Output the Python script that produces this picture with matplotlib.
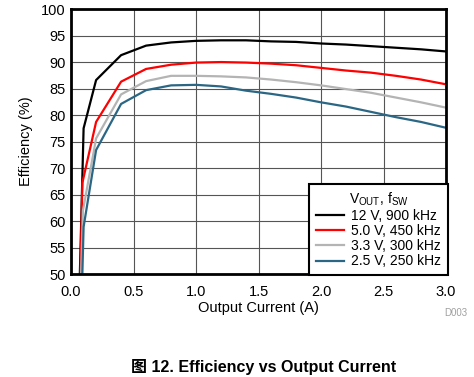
import matplotlib.pyplot as plt

plt.rcParams['font.family'] = ['Liberation Sans', 'Noto Sans CJK SC', 'DejaVu Sans']

# output current (A)
x_12v = [0.07, 0.1, 0.2, 0.4, 0.6, 0.8, 1.0, 1.2, 1.4, 1.6, 1.8, 2.0, 2.2, 2.4, 2.6, 2.8, 3.0]
eff_12v = [50, 77.5, 86.6, 91.3, 93.1, 93.7, 94.0, 94.1, 94.1, 93.9, 93.8, 93.5, 93.3, 93.0, 92.7, 92.4, 92.0]

x_5v = [0.075, 0.09, 0.2, 0.4, 0.6, 0.8, 1.0, 1.2, 1.4, 1.6, 1.8, 2.0, 2.2, 2.4, 2.6, 2.8, 3.0]
eff_5v = [50, 67.2, 78.7, 86.3, 88.7, 89.5, 89.9, 90.0, 89.9, 89.7, 89.4, 88.9, 88.4, 88.0, 87.4, 86.7, 85.8]

x_3v3 = [0.08, 0.095, 0.2, 0.4, 0.6, 0.8, 1.0, 1.2, 1.4, 1.6, 1.8, 2.0, 2.2, 2.4, 2.6, 2.8, 3.0]
eff_3v3 = [50, 62.0, 75.6, 83.9, 86.4, 87.4, 87.4, 87.3, 87.1, 86.7, 86.2, 85.6, 84.9, 84.2, 83.3, 82.4, 81.4]

x_2v5 = [0.09, 0.1, 0.2, 0.4, 0.6, 0.8, 1.0, 1.2, 1.4, 1.6, 1.8, 2.0, 2.2, 2.4, 2.6, 2.8, 3.0]
eff_2v5 = [50, 58.9, 73.4, 82.1, 84.7, 85.6, 85.7, 85.4, 84.6, 84.0, 83.3, 82.4, 81.6, 80.6, 79.6, 78.7, 77.6]

labels = ['12 V, 900 kHz', '5.0 V, 450 kHz', '3.3 V, 300 kHz', '2.5 V, 250 kHz']
colors = ['#000000', '#ff0000', '#b4b4b4', '#2b6784']

fig = plt.figure(figsize=(4.74, 3.77), dpi=100)
ax = fig.add_axes([0.150, 0.273, 0.791, 0.703])

series = [(x_12v, eff_12v), (x_5v, eff_5v), (x_3v3, eff_3v3), (x_2v5, eff_2v5)]
for (xs, ys), lab, col in zip(series, labels, colors):
    ax.plot(xs, ys, color=col, lw=1.6, label=lab)

ax.set_xlim(0, 3.0)
ax.set_ylim(50, 100)
ax.set_xticks([0, 0.5, 1.0, 1.5, 2.0, 2.5, 3.0])
ax.set_xticklabels(['0.0', '0.5', '1.0', '1.5', '2.0', '2.5', '3.0'])
ax.set_yticks(range(50, 101, 5))
ax.tick_params(length=0, labelsize=10.5)
ax.tick_params(axis='x', pad=8)
ax.tick_params(axis='y', pad=4)
ax.grid(True, color='#555555', lw=0.8)
ax.set_axisbelow(True)
for s in ax.spines.values():
    s.set_linewidth(2)
    s.set_color('black')

ax.set_xlabel('Output Current (A)', fontsize=10.5, labelpad=1)
ax.set_ylabel('Efficiency (%)', fontsize=10.5, labelpad=6)

leg = ax.legend(title=r'V$_\mathregular{OUT}$, f$_\mathregular{SW}$', loc='lower right',
                bbox_to_anchor=(1.005, -0.005), borderaxespad=0, fancybox=False,
                framealpha=1, edgecolor='black', fontsize=10, title_fontsize=10,
                handlelength=2.0, handletextpad=0.5, labelspacing=0.08,
                borderpad=0.5)
leg.get_frame().set_linewidth(1.5)

fig.text(0.985, 0.170, 'D003', fontsize=7, color='#a0a0a0', ha='right', va='center')
fig.text(0.555, 0.027, '图 12. Efficiency vs Output Current', fontsize=11.5, fontweight='bold',
         ha='center', va='center', family=['Liberation Sans', 'Noto Sans CJK SC'])

fig.savefig('out.png', dpi=100)
